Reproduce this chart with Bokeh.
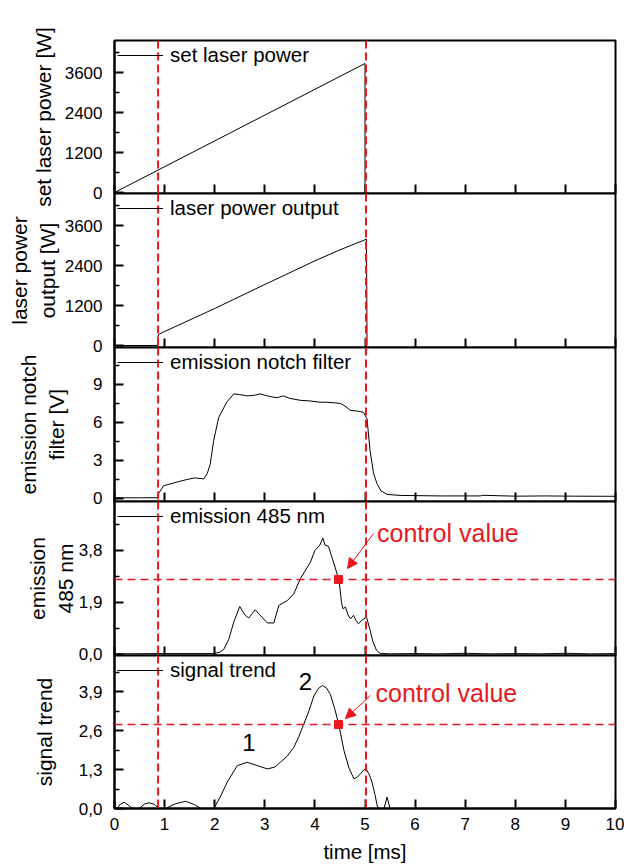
from bokeh.plotting import figure
from bokeh.layouts import column
from bokeh.models import (Range1d, FixedTicker, Span, Label, Arrow, NormalHead,
                          Legend, LegendItem, CustomJSTickFormatter)
from bokeh.embed import file_html
from bokeh.resources import INLINE

FONT = "Liberation Sans"
RED = "#e8191e"

# ---- time axis -------------------------------------------------------------
x_ticks = [0, 1, 2, 3, 4, 5, 6, 7, 8, 9, 10]
laser_on_t = 0.87
laser_off_t = 5.02

# ---- set laser power [W] ---------------------------------------------------
t_set = [0.0, 5.0, 5.0]
set_power = [0, 3870, 0]

# ---- laser power output [W] ------------------------------------------------
t_out = [0.0, 0.87, 0.87, 0.88, 1.0, 2.0, 3.0, 4.0, 4.5, 5.03, 5.04]
out_power = [0, 0, 250, 330, 420, 1110, 1830, 2540, 2870, 3190, 0]

# ---- emission notch filter [V] ---------------------------------------------
t_notch = [0.0, 0.5, 0.85, 0.88, 0.98, 1.2, 1.45, 1.6, 1.78, 1.85, 1.91, 1.98,
           2.08, 2.24, 2.38, 2.5, 2.65, 2.8, 2.91, 3.05, 3.24, 3.37, 3.5, 3.71,
           3.9, 4.1, 4.24, 4.4, 4.51, 4.6, 4.71, 4.85, 4.97, 5.04, 5.1, 5.17,
           5.24, 5.32, 5.44, 5.7, 6.5, 7.3, 7.35, 8.0, 8.6, 9.2, 10.0]
notch = [0.05, 0.05, 0.06, 0.39, 1.0, 1.25, 1.5, 1.62, 1.55, 1.95, 2.7, 4.58,
         6.4, 7.6, 8.26, 8.2, 8.1, 8.15, 8.26, 8.1, 7.95, 8.1, 7.9, 7.75,
         7.7, 7.6, 7.6, 7.55, 7.5, 7.3, 6.95, 6.9, 6.8, 6.3, 3.8, 2.0,
         1.16, 0.6, 0.32, 0.24, 0.2, 0.2, 0.25, 0.18, 0.2, 0.18, 0.17]

# ---- emission 485 nm -------------------------------------------------------
t_em = [0.0, 1.0, 1.98, 2.1, 2.18, 2.28, 2.38, 2.5, 2.6, 2.68, 2.75, 2.81,
        2.9, 3.05, 3.18, 3.28, 3.45, 3.58, 3.71, 3.91, 4.0, 4.1, 4.16, 4.2,
        4.27, 4.35, 4.45, 4.48, 4.53, 4.56, 4.61, 4.66, 4.71, 4.77, 4.82,
        4.87, 4.93, 5.03, 5.1, 5.16, 5.23, 5.3, 5.5, 6.0, 6.5, 7.0, 7.5, 8.0,
        8.5, 9.0, 9.5, 10.0]
em = [0.02, 0.03, 0.03, 0.08, 0.18, 0.55, 1.18, 1.75, 1.45, 1.33, 1.5, 1.63,
      1.45, 1.15, 1.15, 1.79, 1.97, 2.22, 2.77, 3.37, 3.8, 4.0, 4.25, 4.0,
      3.95, 3.5, 2.9, 2.76, 1.9, 1.67, 1.73, 1.45, 1.3, 1.43, 1.25,
      1.12, 1.24, 1.36, 0.9, 0.45, 0.15, 0.04, 0.02, 0.03, 0.02, 0.04, 0.02,
      0.03, 0.02, 0.04, 0.02, 0.03]

# ---- signal trend ----------------------------------------------------------
t_sig = [0.0, 0.05, 0.12, 0.19, 0.27, 0.35, 0.49, 0.6, 0.69, 0.8, 0.88, 1.02,
         1.2, 1.42, 1.6, 1.72, 1.98, 2.1, 2.25, 2.45, 2.65, 2.85, 3.05, 3.2,
         3.31, 3.45, 3.58, 3.68, 3.78, 3.88, 3.98, 4.07, 4.15, 4.23, 4.31,
         4.4, 4.48, 4.58, 4.68, 4.78, 4.85, 4.91, 4.97, 5.02, 5.08, 5.14,
         5.2, 5.25, 5.3, 5.38, 5.44, 5.5, 10.0]
sig = [0.0, 0.0, 0.15, 0.21, 0.12, 0.0, 0.0, 0.15, 0.19, 0.14, 0.0, 0.0,
       0.15, 0.24, 0.13, 0.0, 0.0, 0.35, 0.88, 1.43, 1.54, 1.43, 1.32, 1.38,
       1.54, 1.75, 2.04, 2.4, 2.82, 3.25, 3.75, 4.0, 4.1, 4.02, 3.8,
       3.3, 2.77, 1.93, 1.35, 0.99, 1.05, 1.16, 1.28, 1.32, 1.15, 0.88,
       0.45, 0.05, 0.0, 0.0, 0.38, 0.0, 0.0]

# ---- control value ---------------------------------------------------------
ctrl_t = [4.47]
em_threshold = 2.74
sig_threshold = 2.8
ctrl_em = [em_threshold]
ctrl_sig = [sig_threshold]

xr = Range1d(0, 10)
# px each canvas runs on under the next panel, so texts at the boundary show
OVERLAPS = [16, 10, 10, 10]


def panel(frame_h, top, y_lo, y_hi, ticks, minor, ylabel, label_standoff,
          pad_below, pad_above, comma=False, bottom=False):
    p = figure(frame_width=501, frame_height=frame_h, x_range=xr,
               y_range=Range1d(y_lo, y_hi), output_backend="svg",
               toolbar_location=None, min_border_left=114,
               min_border_right=9, min_border_top=top,
               min_border_bottom=pad_below)
    if pad_above:
        p.margin = (-pad_above, 0, 0, 0)
        p.border_fill_alpha = 0
    p.grid.visible = False
    p.outline_line_color = "black"
    p.outline_line_width = 2
    p.outline_line_alpha = 1.0

    ya = p.yaxis[0]
    ya.ticker = FixedTicker(ticks=ticks, minor_ticks=minor)
    if comma:
        ya.formatter = CustomJSTickFormatter(
            code="return tick.toFixed(1).replace('.', ',');")
    ya.axis_label = ylabel
    ya.axis_label_text_font = FONT
    ya.axis_label_text_font_size = "21px"
    ya.axis_label_text_font_style = "normal"
    ya.axis_label_text_color = "black"
    ya.axis_label_standoff = label_standoff
    ya.major_label_text_font = FONT
    ya.major_label_text_font_size = "17px"
    ya.major_label_text_color = "black"
    ya.major_label_standoff = 12
    ya.major_tick_in = 9
    ya.major_tick_out = 0
    ya.minor_tick_in = 5
    ya.minor_tick_out = 0
    ya.major_tick_line_width = 2
    ya.minor_tick_line_width = 1.5
    ya.axis_line_width = 2

    xa = p.xaxis[0]
    xa.ticker = FixedTicker(ticks=x_ticks, minor_ticks=[])
    xa.major_tick_in = 9
    xa.major_tick_out = 0
    xa.major_tick_line_width = 2
    xa.axis_line_width = 2
    if bottom:
        xa.axis_label = "time [ms]"
        xa.axis_label_text_font = FONT
        xa.axis_label_text_font_size = "20.5px"
        xa.axis_label_text_font_style = "normal"
        xa.axis_label_text_color = "black"
        xa.axis_label_standoff = 7
        xa.major_label_text_font = FONT
        xa.major_label_text_font_size = "17px"
        xa.major_label_text_color = "black"
        xa.major_label_standoff = 9
    else:
        # upper panels keep their time ticks but carry no tick numbers
        xa.formatter = CustomJSTickFormatter(code="return '';")
        xa.major_label_text_font_size = "1px"
        xa.major_label_standoff = 0
    return p


def add_legend(p, r, name):
    leg = Legend(items=[LegendItem(label=name, renderers=[r])],
                 location="top_left", margin=0, padding=3, spacing=0,
                 glyph_width=46, glyph_height=20, label_height=20,
                 label_standoff=7, label_text_font=FONT,
                 label_text_font_size="20.5px", label_text_color="black",
                 border_line_alpha=0, background_fill_alpha=0)
    p.add_layout(leg)


def add_markers(p):
    for loc in (laser_on_t, laser_off_t):
        p.add_layout(Span(location=loc, dimension="height", line_color=RED,
                          line_dash="8 4", line_width=2))


def add_control(p, level, tx, ty, ax0, ay0, ax1, ay1, yvals):
    p.add_layout(Span(location=level, dimension="width", line_color=RED,
                      line_dash="8 5", line_width=1.5))
    p.scatter(ctrl_t, yvals, marker="square", size=8, color=RED)
    p.add_layout(Arrow(end=NormalHead(size=10, line_color=RED,
                                      fill_color=RED, line_width=1),
                       x_start=ax0, y_start=ay0, x_end=ax1, y_end=ay1,
                       line_color=RED, line_width=1))
    p.add_layout(Label(x=tx, y=ty, text="control value", text_color=RED,
                       text_font=FONT, text_font_size="25px",
                       text_baseline="middle"))


# panel 1: set laser power
p1 = panel(153, 40, -30, 4560, [0, 1200, 2400, 3600],
           [600, 1800, 3000, 4200], "set laser power [W]", 7,
           OVERLAPS[0], 0)
r1 = p1.line(t_set, set_power, line_color="black", line_width=1)
add_legend(p1, r1, "set laser power")
add_markers(p1)

# panel 2: laser power output
p2 = panel(154, 0, -60, 4560, [0, 1200, 2400, 3600],
           [600, 1800, 3000, 4200], "laser power\noutput [W]", 3,
           OVERLAPS[1], OVERLAPS[0])
r2 = p2.line(t_out, out_power, line_color="black", line_width=1)
add_legend(p2, r2, "laser power output")
add_markers(p2)

# panel 3: emission notch filter
p3 = panel(154, 0, -0.24, 11.92, [0, 3, 6, 9], [1.5, 4.5, 7.5, 10.5],
           "emission notch\nfilter [V]", 22, OVERLAPS[2], OVERLAPS[1])
r3 = p3.line(t_notch, notch, line_color="black", line_width=1)
add_legend(p3, r3, "emission notch filter")
add_markers(p3)

# panel 4: emission 485 nm
p4 = panel(154, 0, -0.04, 5.59, [0, 1.9, 3.8], [0.95, 2.85, 4.75],
           "emission\n485 nm", -1, OVERLAPS[3], OVERLAPS[2], comma=True)
r4 = p4.line(t_em, em, line_color="black", line_width=1)
add_legend(p4, r4, "emission 485 nm")
add_markers(p4)
add_control(p4, em_threshold, 5.24, 4.45, 5.17, 4.42, 4.65, 3.14, ctrl_em)

# panel 5: signal trend
p5 = panel(153, 0, 0, 5.1, [0, 1.3, 2.6, 3.9], [0.65, 1.95, 3.25, 4.55],
           "signal trend", 20, 0, OVERLAPS[3], comma=True, bottom=True)
r5 = p5.line(t_sig, sig, line_color="black", line_width=1)
add_legend(p5, r5, "signal trend")
add_markers(p5)
add_control(p5, sig_threshold, 5.21, 3.84, 5.11, 3.77, 4.61, 3.0, ctrl_sig)
for txt, lx, ly in (("1", 2.55, 2.2), ("2", 3.68, 4.22)):
    p5.add_layout(Label(x=lx, y=ly, text=txt, text_color="black",
                        text_font=FONT, text_font_size="24px",
                        text_baseline="middle"))

layout = column(p1, p2, p3, p4, p5, spacing=0)

with open("out.html", "w") as f:
    f.write(file_html(layout, INLINE, title="laser power and emission"))
